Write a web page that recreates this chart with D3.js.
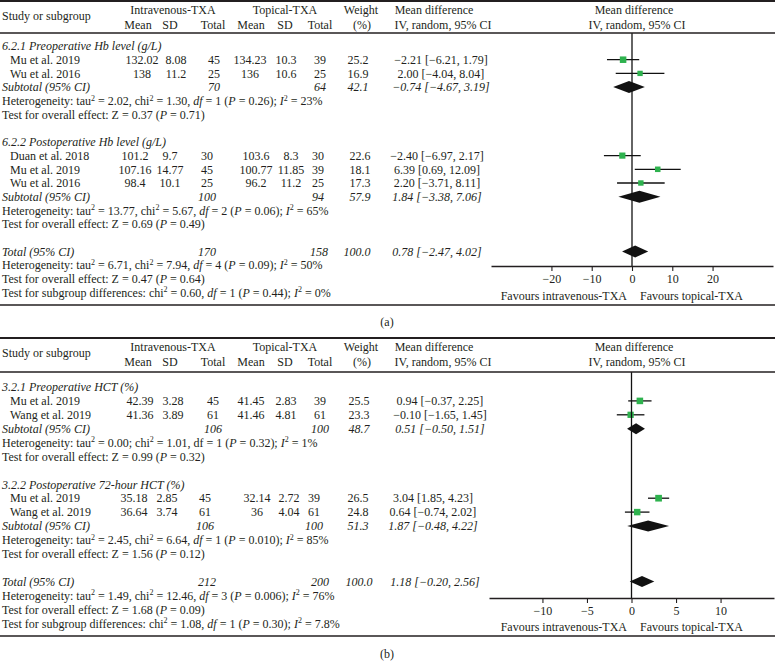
<!DOCTYPE html>
<html><head><meta charset="utf-8">
<script src="https://cdn.jsdelivr.net/npm/d3@7"></script>
<style>
body{margin:0;background:#fff}
svg{display:block}
text{font-family:"Liberation Serif","Times New Roman",serif;font-size:12px;fill:#231f20}
</style>
</head><body>
<svg id="chart" width="775" height="672"></svg>
<script>
// ---------------- Panel (a): Hb level ----------------
const aGroups = ["6.2.1 Preoperative Hb level (g/L)", "6.2.2 Postoperative Hb level (g/L)"];
const aStudy = ["Mu et al. 2019", "Wu et al. 2016", "Duan et al. 2018", "Mu et al. 2019", "Wu et al. 2016"];
const aGroupOf = [0, 0, 1, 1, 1];
const aIvMean = ["132.02", "138", "101.2", "107.16", "98.4"];
const aIvSD = ["8.08", "11.2", "9.7", "14.77", "10.1"];
const aIvN = [45, 25, 30, 45, 25];
const aTopMean = ["134.23", "136", "103.6", "100.77", "96.2"];
const aTopSD = ["10.3", "10.6", "8.3", "11.85", "11.2"];
const aTopN = [39, 25, 30, 39, 25];
const aWeight = [25.2, 16.9, 22.6, 18.1, 17.3];
const aMD = [-2.21, 2.00, -2.40, 6.39, 2.20];
const aLo = [-6.21, -4.04, -6.97, 0.69, -3.71];
const aHi = [1.79, 8.04, 2.17, 12.09, 8.11];
const aSubIvN = [70, 100];
const aSubTopN = [64, 94];
const aSubW = [42.1, 57.9];
const aSubMD = [-0.74, 1.84];
const aSubLo = [-4.67, -3.38];
const aSubHi = [3.19, 7.06];
const aSubHet = ["tau^{2} = 2.02, chi^{2} = 1.30, _df_ = 1 (_P_ = 0.26); _I_^{2} = 23%",
                 "tau^{2} = 13.77, chi^{2} = 5.67, _df_ = 2 (_P_ = 0.06); _I_^{2} = 65%"];
const aSubZ = ["Z = 0.37 (_P_ = 0.71)", "Z = 0.69 (_P_ = 0.49)"];
const aTotN = [170, 158];
const aTotW = 100.0;
const aTotCI = [0.78, -2.47, 4.02];
const aTotHet = "tau^{2} = 6.71, chi^{2} = 7.94, _df_ = 4 (_P_ = 0.09); _I_^{2} = 50%";
const aTotZ = "Z = 0.47 (_P_ = 0.64)";
const aSubDiff = "chi^{2} = 0.60, _df_ = 1 (_P_ = 0.44); _I_^{2} = 0%";
const aTicks = [-20, -10, 0, 10, 20];
const aDomain = [-35, 35];

// ---------------- Panel (b): HCT ----------------
const bGroups = ["3.2.1 Preoperative HCT (%)", "3.2.2 Postoperative 72-hour HCT (%)"];
const bStudy = ["Mu et al. 2019", "Wang et al. 2019", "Mu et al. 2019", "Wang et al. 2019"];
const bGroupOf = [0, 0, 1, 1];
const bIvMean = ["42.39", "41.36", "35.18", "36.64"];
const bIvSD = ["3.28", "3.89", "2.85", "3.74"];
const bIvN = [45, 61, 45, 61];
const bTopMean = ["41.45", "41.46", "32.14", "36"];
const bTopSD = ["2.83", "4.81", "2.72", "4.04"];
const bTopN = [39, 61, 39, 61];
const bWeight = [25.5, 23.3, 26.5, 24.8];
const bMD = [0.94, -0.10, 3.04, 0.64];
const bLo = [-0.37, -1.65, 1.85, -0.74];
const bHi = [2.25, 1.45, 4.23, 2.02];
const bSubIvN = [106, 106];
const bSubTopN = [100, 100];
const bSubW = [48.7, 51.3];
const bSubMD = [0.51, 1.87];
const bSubLo = [-0.50, -0.48];
const bSubHi = [1.51, 4.22];
const bSubHet = ["tau^{2} = 0.00; chi^{2} = 1.01, df = 1 (_P_ = 0.32); _I_^{2} = 1%",
                 "tau^{2} = 2.45, chi^{2} = 6.64, _df_ = 1 (_P_ = 0.010); _I_^{2} = 85%"];
const bSubZ = ["Z = 0.99 (_P_ = 0.32)", "Z = 1.56 (_P_ = 0.12)"];
const bTotN = [212, 200];
const bTotW = 100.0;
const bTotCI = [1.18, -0.20, 2.56];
const bTotHet = "tau^{2} = 1.49, chi^{2} = 12.46, _df_ = 3 (_P_ = 0.006); _I_^{2} = 76%";
const bTotZ = "Z = 1.68 (_P_ = 0.09)";
const bSubDiff = "chi^{2} = 1.08, _df_ = 1 (_P_ = 0.30); _I_^{2} = 7.8%";
const bTicks = [-10, -5, 0, 5, 10];
const bDomain = [-16, 16];

// ---------------- drawing ----------------
const svg = d3.select("#chart");
const W = 775;
const f2 = d3.format(".2f");
const f1 = d3.format(".1f");
const ciText = (m, l, h) => `${f2(m)} [${f2(l)}, ${f2(h)}]`;
const GREEN = "#2eb24e";

function rich(g, x, y, str, opts = {}) {
  const t = g.append("text").attr("x", x).attr("y", y).attr("dy", "0.35em");
  if (opts.anchor) t.attr("text-anchor", opts.anchor);
  if (opts.italic) t.attr("font-style", "italic");
  const parts = str.split(/(_[^_]+_|\^\{[^}]+\})/g).filter(p => p.length);
  let raised = false;
  parts.forEach(p => {
    const s = t.append("tspan");
    if (p.startsWith("^{")) {
      s.text(p.slice(2, -1)).attr("font-size", "8px").attr("dy", raised ? 0 : -4.5);
      raised = true;
    } else {
      let txt = p;
      if (p.startsWith("_") && p.endsWith("_") && p.length > 2) { txt = p.slice(1, -1); s.attr("font-style", "italic"); }
      s.text(txt);
      if (raised) { s.attr("dy", 4.5); raised = false; }
    }
  });
  return t;
}

function hline(g, y, x0, x1, w) {
  g.append("line").attr("x1", x0).attr("x2", x1).attr("y1", y).attr("y2", y)
    .attr("stroke", "#231f20").attr("stroke-width", w);
}

function drawPanel(D, L) {
  const g = svg.append("g");
  const x = d3.scaleLinear().domain(D.domain).range([L.x0, L.x1]);
  const rowY = i => L.row0 + i * L.step;

  hline(g, L.top, 0, W, 1.8);
  hline(g, L.head, 0, W, 1.3);
  hline(g, L.bottom, 0, W, 1.3);

  // header
  const ht = L.top;
  rich(g, 2, ht + 15, "Study or subgroup");
  rich(g, 173, ht + 9, "Intravenous-TXA", {anchor: "middle"});
  rich(g, 285, ht + 9, "Topical-TXA", {anchor: "middle"});
  [["Mean", 138], ["SD", 170], ["Total", 213], ["Mean", 251], ["SD", 285], ["Total", 320]]
    .forEach(([s, xx]) => rich(g, xx, ht + 24, s, {anchor: "middle"}));
  rich(g, 361, ht + 9, "Weight", {anchor: "middle"});
  rich(g, 362, ht + 24, "(%)", {anchor: "middle"});
  rich(g, 434, ht + 9, "Mean difference", {anchor: "middle"});
  rich(g, 443, ht + 24, "IV, random, 95% CI", {anchor: "middle"});
  rich(g, 634, ht + 9, "Mean difference", {anchor: "middle"});
  rich(g, 637, ht + 24, "IV, random, 95% CI", {anchor: "middle"});

  const fg = svg.append("g");
  const diamond = (y, m, l, h, hh) => {
    fg.append("path")
      .attr("d", `M${x(l)},${y} L${x(m)},${y - hh} L${x(h)},${y} L${x(m)},${y + hh} Z`)
      .attr("fill", "#111");
  };

  let r = 0;
  D.groups.forEach((gn, gi) => {
    const C = L.cols[gi];
    rich(g, 2, rowY(r), gn, {italic: true}); r++;
    D.study.forEach((s, i) => {
      if (D.groupOf[i] !== gi) return;
      const y = rowY(r);
      rich(g, 10, y, s);
      rich(g, C.m1, y, D.ivMean[i], {anchor: "middle"});
      rich(g, C.sd1, y, D.ivSD[i], {anchor: "middle"});
      rich(g, C.n1, y, String(D.ivN[i]), {anchor: "middle"});
      rich(g, C.m2, y, D.topMean[i], {anchor: "middle"});
      rich(g, C.sd2, y, D.topSD[i], {anchor: "middle"});
      rich(g, C.n2, y, String(D.topN[i]), {anchor: "middle"});
      rich(g, C.w, y, f1(D.weight[i]), {anchor: "middle"});
      rich(g, C.ci, y, ciText(D.md[i], D.lo[i], D.hi[i]), {anchor: "middle"});
      fg.append("line").attr("x1", x(D.lo[i])).attr("x2", x(D.hi[i]))
        .attr("y1", y).attr("y2", y).attr("stroke", "#111").attr("stroke-width", 1.3);
      const sz = 1.3 * Math.sqrt(D.weight[i]);
      fg.append("rect").attr("x", x(D.md[i]) - sz / 2).attr("y", y - sz / 2)
        .attr("width", sz).attr("height", sz).attr("fill", GREEN);
      r++;
    });
    const y = rowY(r);
    rich(g, 2, y, "Subtotal (95% CI)", {italic: true});
    rich(g, C.n1, y, String(D.subIvN[gi]), {anchor: "middle", italic: true});
    rich(g, C.n2, y, String(D.subTopN[gi]), {anchor: "middle", italic: true});
    rich(g, C.w, y, f1(D.subW[gi]), {anchor: "middle", italic: true});
    rich(g, C.ci, y, ciText(D.subMD[gi], D.subLo[gi], D.subHi[gi]), {anchor: "middle", italic: true});
    diamond(y, D.subMD[gi], D.subLo[gi], D.subHi[gi], L.dh);
    r++;
    rich(g, 2, rowY(r), "Heterogeneity: " + D.subHet[gi]); r++;
    rich(g, 2, rowY(r), "Test for overall effect: " + D.subZ[gi]); r++;
    r++;
  });
  const T = L.cols[2];
  const y = rowY(r);
  rich(g, 2, y, "Total (95% CI)", {italic: true});
  rich(g, T.n1, y, String(D.totN[0]), {anchor: "middle", italic: true});
  rich(g, T.n2, y, String(D.totN[1]), {anchor: "middle", italic: true});
  rich(g, T.w, y, f1(D.totW), {anchor: "middle", italic: true});
  rich(g, T.ci, y, ciText(...D.totCI), {anchor: "middle", italic: true});
  diamond(y, D.totCI[0], D.totCI[1], D.totCI[2], L.dh);
  r++;
  rich(g, 2, rowY(r), "Heterogeneity: " + D.totHet); r++;
  rich(g, 2, rowY(r), "Test for overall effect: " + D.totZ); r++;
  rich(g, 2, rowY(r), "Test for subgroup differences: " + D.subDiff);

  // zero line
  fg.append("line").attr("x1", x(0)).attr("x2", x(0)).attr("y1", L.head).attr("y2", L.axisY)
    .attr("stroke", "#111").attr("stroke-width", 1.3);
  fg.lower();

  // axis
  const ax = g.append("g").attr("transform", `translate(0,${L.axisY})`)
    .call(d3.axisBottom(x).tickValues(D.ticks).tickSize(5).tickSizeOuter(0).tickPadding(3));
  ax.attr("font-family", null).attr("font-size", null);
  ax.select(".domain").attr("stroke", "#231f20").attr("stroke-width", 1.3);
  ax.selectAll(".tick line").attr("stroke", "#231f20").attr("stroke-width", 1.1);
  ax.selectAll(".tick text").attr("fill", "#231f20");

  rich(g, 627, L.favY, "Favours intravenous-TXA", {anchor: "end"});
  rich(g, 640, L.favY, "Favours topical-TXA");
  rich(g, 387, L.label, L.labelText, {anchor: "middle"});
}

drawPanel({
  groups: aGroups, study: aStudy, groupOf: aGroupOf, ivMean: aIvMean, ivSD: aIvSD, ivN: aIvN,
  topMean: aTopMean, topSD: aTopSD, topN: aTopN, weight: aWeight, md: aMD, lo: aLo, hi: aHi,
  subIvN: aSubIvN, subTopN: aSubTopN, subW: aSubW, subMD: aSubMD, subLo: aSubLo, subHi: aSubHi,
  subHet: aSubHet, subZ: aSubZ, totN: aTotN, totW: aTotW, totCI: aTotCI, totHet: aTotHet,
  totZ: aTotZ, subDiff: aSubDiff, ticks: aTicks, domain: aDomain
}, {top: 1, head: 33, row0: 46, step: 13.7, axisY: 266, favY: 296, bottom: 305, label: 322,
    labelText: "(a)", x0: 491, x1: 773, dh: 6,
    cols: [
      {m1: 142, sd1: 176, n1: 214, m2: 250, sd2: 286, n2: 320, w: 358, ci: 441},
      {m1: 135, sd1: 170, n1: 207, m2: 256, sd2: 291, n2: 318, w: 360, ci: 437},
      {n1: 207, n2: 319, w: 357, ci: 437}
    ]});

drawPanel({
  groups: bGroups, study: bStudy, groupOf: bGroupOf, ivMean: bIvMean, ivSD: bIvSD, ivN: bIvN,
  topMean: bTopMean, topSD: bTopSD, topN: bTopN, weight: bWeight, md: bMD, lo: bLo, hi: bHi,
  subIvN: bSubIvN, subTopN: bSubTopN, subW: bSubW, subMD: bSubMD, subLo: bSubLo, subHi: bSubHi,
  subHet: bSubHet, subZ: bSubZ, totN: bTotN, totW: bTotW, totCI: bTotCI, totHet: bTotHet,
  totZ: bTotZ, subDiff: bSubDiff, ticks: bTicks, domain: bDomain
}, {top: 338, head: 372, row0: 387, step: 13.9, axisY: 598, favY: 627, bottom: 636, label: 654,
    labelText: "(b)", x0: 489, x1: 774, dh: 5.5,
    cols: [
      {m1: 140, sd1: 173, n1: 213, m2: 251, sd2: 286, n2: 320, w: 359, ci: 440},
      {m1: 134, sd1: 167, n1: 205, m2: 257, sd2: 289, n2: 314, w: 358, ci: 433},
      {n1: 207, n2: 320, w: 359, ci: 435}
    ]});
</script>
</body></html>
